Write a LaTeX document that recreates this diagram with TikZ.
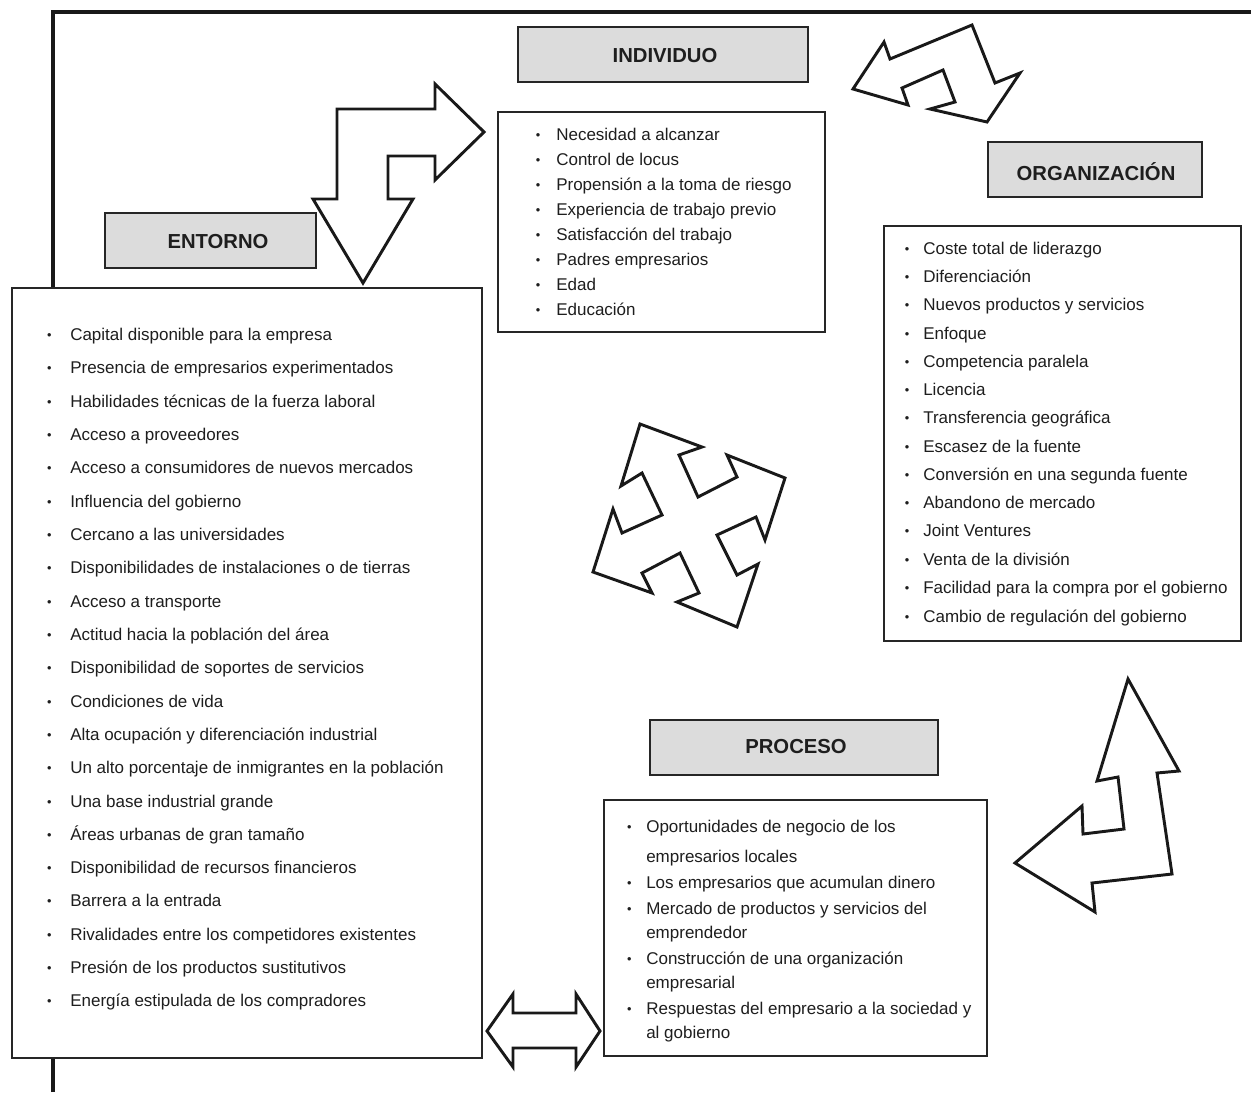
\documentclass[tikz,border=0pt]{standalone}
\usepackage{fontspec}
\setmainfont{Liberation Sans}
\usepackage{tikz}

\definecolor{titlegray}{RGB}{220,220,220}
\definecolor{textgray}{RGB}{30,30,30}
\newcommand{\bul}[1]{\llap{\raisebox{0.02ex}{\scalebox{0.75}{\textbullet}}\hspace{#1}}}

\tikzset{
  titlebox/.style={draw=black!85, line width=1.5pt, fill=titlegray},
  listbox/.style={draw=black!85, line width=1.1pt, fill=white},
  bigarrow/.style={draw=black!90, line width=2.2pt, fill=white, line join=miter},
  frameline/.style={draw=black!90, line width=2.6pt},
  titletext/.style={font=\bfseries\fontsize{15.2}{18}\selectfont, inner sep=0pt, text=textgray},
  itemtext/.style={font=\fontsize{12.75}{15}\selectfont, anchor=base west, inner sep=0pt, text=textgray}
}

\begin{document}
\begin{tikzpicture}[x=0.75pt,y=0.75pt,yscale=-1,xscale=1]
\useasboundingbox (0,0) rectangle (1251,1092);

%Straight Lines: frame
\draw[frameline] (53,1092) -- (53,12) -- (1251,12);

%Shape: Rectangle - entorno
\draw[listbox] (12,288) rectangle (482,1058);
\draw[titlebox] (105,213) rectangle (316,268);
%Shape: Rectangle - individuo
\draw[listbox] (498,112) rectangle (825,332);
\draw[titlebox] (518,27) rectangle (808,82);
%Shape: Rectangle - organizacion
\draw[listbox] (884,226) rectangle (1241,641);
\draw[titlebox] (988,142) rectangle (1202,197);
%Shape: Rectangle - proceso
\draw[listbox] (604,800) rectangle (987,1056);
\draw[titlebox] (650,720) rectangle (938,775);

%Shape: Bent Arrow - entorno / individuo
\draw[bigarrow] (337,109) -- (435,109) -- (435,84) -- (484,132) -- (435,180) -- (435,156) -- (388,156) -- (388,199) -- (413,199) -- (363,283) -- (313,199) -- (337,199) -- cycle ;
%Shape: Bent Arrow - individuo / organizacion
\draw[bigarrow] (853,89) -- (884,42) -- (890,59) -- (972,25) -- (995,83) -- (1020,73) -- (987,122) -- (930,109) -- (955,102) -- (943,70) -- (902,88) -- (908,105) -- cycle ;
%Shape: Quad Arrow - centre
\draw[bigarrow] (640,424) -- (702,447) -- (679,455) -- (698,497) -- (737,477) -- (727,455) -- (785,478) -- (765,540) -- (756,517) -- (717,535) -- (737,575) -- (758,564) -- (737,627) -- (677,602) -- (699,593) -- (680,553) -- (642,573) -- (652,593) -- (593,572) -- (613,509) -- (622,533) -- (662,515) -- (642,473) -- (621,486) -- cycle ;
%Shape: Bent Arrow - organizacion / proceso
\draw[bigarrow] (1128,679) -- (1179,771) -- (1157,773) -- (1172,874) -- (1092,883) -- (1095,912) -- (1015,863) -- (1082,806) -- (1083,834) -- (1124,829) -- (1118,777) -- (1097,781) -- cycle ;
%Shape: Left Right Arrow - entorno / proceso
\draw[bigarrow] (487,1031) -- (513,994) -- (513,1013) -- (576,1013) -- (576,994) -- (600,1031) -- (576,1067) -- (576,1048) -- (513,1048) -- (513,1067) -- cycle ;

% Text Node - titles
\node[titletext] (individuo) at (665,56) {INDIVIDUO};
\node[titletext] (organizacion) at (1096,172) {ORGANIZACIÓN};
\node[titletext] (entorno) at (218,242) {ENTORNO};
\node[titletext] (proceso) at (796,747) {PROCESO};

% Text Node - individuo
\node[itemtext] (i1) at (556,140) {\bul{12pt}Necesidad a alcanzar};
\node[itemtext] (i2) at (556,165) {\bul{12pt}Control de locus};
\node[itemtext] (i3) at (556,190) {\bul{12pt}Propensión a la toma de riesgo};
\node[itemtext] (i4) at (556,215) {\bul{12pt}Experiencia de trabajo previo};
\node[itemtext] (i5) at (556,240) {\bul{12pt}Satisfacción del trabajo};
\node[itemtext] (i6) at (556,265) {\bul{12pt}Padres empresarios};
\node[itemtext] (i7) at (556,290) {\bul{12pt}Edad};
\node[itemtext] (i8) at (556,315) {\bul{12pt}Educación};

% Text Node - organizacion
\node[itemtext] (o1) at (923,254) {\bul{10.5pt}Coste total de liderazgo};
\node[itemtext] (o2) at (923,282) {\bul{10.5pt}Diferenciación};
\node[itemtext] (o3) at (923,310) {\bul{10.5pt}Nuevos productos y servicios};
\node[itemtext] (o4) at (923,339) {\bul{10.5pt}Enfoque};
\node[itemtext] (o5) at (923,367) {\bul{10.5pt}Competencia paralela};
\node[itemtext] (o6) at (923,395) {\bul{10.5pt}Licencia};
\node[itemtext] (o7) at (923,423) {\bul{10.5pt}Transferencia geográfica};
\node[itemtext] (o8) at (923,452) {\bul{10.5pt}Escasez de la fuente};
\node[itemtext] (o9) at (923,480) {\bul{10.5pt}Conversión en una segunda fuente};
\node[itemtext] (o10) at (923,508) {\bul{10.5pt}Abandono de mercado};
\node[itemtext] (o11) at (923,536) {\bul{10.5pt}Joint Ventures};
\node[itemtext] (o12) at (923,565) {\bul{10.5pt}Venta de la división};
\node[itemtext] (o13) at (923,593) {\bul{10.5pt}Facilidad para la compra por el gobierno};
\node[itemtext] (o14) at (923,622) {\bul{10.5pt}Cambio de regulación del gobierno};

% Text Node - entorno
\node[itemtext] (e1) at (70,340) {\bul{14pt}Capital disponible para la empresa};
\node[itemtext] (e2) at (70,373) {\bul{14pt}Presencia de empresarios experimentados};
\node[itemtext] (e3) at (70,407) {\bul{14pt}Habilidades técnicas de la fuerza laboral};
\node[itemtext] (e4) at (70,440) {\bul{14pt}Acceso a proveedores};
\node[itemtext] (e5) at (70,473) {\bul{14pt}Acceso a consumidores de nuevos mercados};
\node[itemtext] (e6) at (70,507) {\bul{14pt}Influencia del gobierno};
\node[itemtext] (e7) at (70,540) {\bul{14pt}Cercano a las universidades};
\node[itemtext] (e8) at (70,573) {\bul{14pt}Disponibilidades de instalaciones o de tierras};
\node[itemtext] (e9) at (70,607) {\bul{14pt}Acceso a transporte};
\node[itemtext] (e10) at (70,640) {\bul{14pt}Actitud hacia la población del área};
\node[itemtext] (e11) at (70,673) {\bul{14pt}Disponibilidad de soportes de servicios};
\node[itemtext] (e12) at (70,707) {\bul{14pt}Condiciones de vida};
\node[itemtext] (e13) at (70,740) {\bul{14pt}Alta ocupación y diferenciación industrial};
\node[itemtext] (e14) at (70,773) {\bul{14pt}Un alto porcentaje de inmigrantes en la población};
\node[itemtext] (e15) at (70,807) {\bul{14pt}Una base industrial grande};
\node[itemtext] (e16) at (70,840) {\bul{14pt}Áreas urbanas de gran tamaño};
\node[itemtext] (e17) at (70,873) {\bul{14pt}Disponibilidad de recursos financieros};
\node[itemtext] (e18) at (70,906) {\bul{14pt}Barrera a la entrada};
\node[itemtext] (e19) at (70,940) {\bul{14pt}Rivalidades entre los competidores existentes};
\node[itemtext] (e20) at (70,973) {\bul{14pt}Presión de los productos sustitutivos};
\node[itemtext] (e21) at (70,1006) {\bul{14pt}Energía estipulada de los compradores};

% Text Node - proceso
\node[itemtext] (p1) at (646,832) {\bul{11pt}Oportunidades de negocio de los};
\node[itemtext] (p1b) at (646,862) {empresarios locales};
\node[itemtext] (p2) at (646,888) {\bul{11pt}Los empresarios que acumulan dinero};
\node[itemtext] (p3) at (646,914) {\bul{11pt}Mercado de productos y servicios del};
\node[itemtext] (p3b) at (646,938) {emprendedor};
\node[itemtext] (p4) at (646,964) {\bul{11pt}Construcción de una organización};
\node[itemtext] (p4b) at (646,988) {empresarial};
\node[itemtext] (p5) at (646,1014) {\bul{11pt}Respuestas del empresario a la sociedad y};
\node[itemtext] (p5b) at (646,1038) {al gobierno};

\end{tikzpicture}
\end{document}
